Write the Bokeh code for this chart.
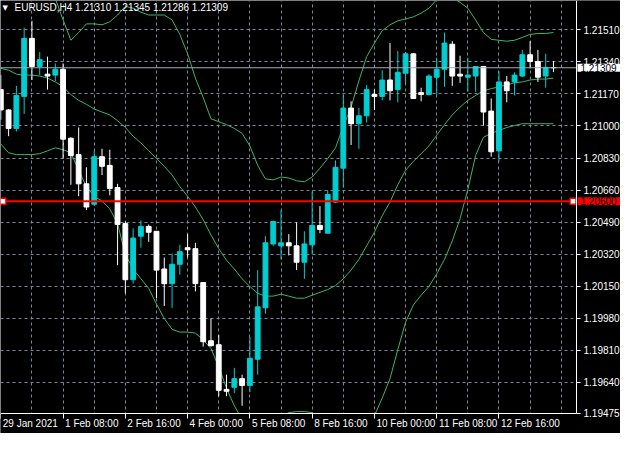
from bokeh.plotting import figure
from bokeh.models import (ColumnDataSource, FixedTicker, PrintfTickFormatter, Label,
                          BoxAnnotation, Range1d)
from bokeh.embed import file_html
from bokeh.resources import INLINE

nan = float("nan")

# ---------------- data (EURUSD H4, 72 bars, 29 Jan 2021 00:00 .. 12 Feb 2021) ----------------
title_text = "EURUSD,H4  1.21310 1.21345 1.21286 1.21309"
last_close = 1.21309
marked_level = 1.20600

opens = [1.21193, 1.21085, 1.20987, 1.21157, 1.21465, 1.21316, 1.21275, 1.21270, 1.21301, 1.20935,
         1.20848, 1.20693, 1.20585, 1.20837, 1.20791, 1.20673, 1.20482, 1.20184, 1.20415, 1.20467,
         1.20441, 1.20241, 1.20163, 1.20266, 1.20354, 1.20349, 1.20169, 1.19860, 1.19839, 1.19602,
         1.19613, 1.19659, 1.19623, 1.19762, 1.20035, 1.20374, 1.20364, 1.20380, 1.20364, 1.20277,
         1.20369, 1.20472, 1.20431, 1.20596, 1.20776, 1.21095, 1.21012, 1.21054, 1.21167, 1.21157,
         1.21244, 1.21193, 1.21280, 1.21383, 1.21177, 1.21167, 1.21259, 1.21301, 1.21434, 1.21275,
         1.21259, 1.21265, 1.21316, 1.21079, 1.20868, 1.21234, 1.21234, 1.21265, 1.21378, 1.21342,
         1.21265, 1.21310]
highs = [1.21270, 1.21090, 1.21213, 1.21522, 1.21558, 1.21393, 1.21368, 1.21332, 1.21332, 1.20940,
         1.20992, 1.20781, 1.20868, 1.20879, 1.20874, 1.20693, 1.20493, 1.20457, 1.20498, 1.20477,
         1.20441, 1.20302, 1.20323, 1.20369, 1.20426, 1.20380, 1.20169, 1.19978, 1.19891, 1.19680,
         1.19716, 1.19680, 1.19880, 1.20235, 1.20415, 1.20498, 1.20554, 1.20426, 1.20488, 1.20441,
         1.20652, 1.20575, 1.20657, 1.20817, 1.21167, 1.21131, 1.21095, 1.21218, 1.21193, 1.21296,
         1.21440, 1.21398, 1.21393, 1.21383, 1.21203, 1.21275, 1.21362, 1.21496, 1.21450, 1.21373,
         1.21362, 1.21316, 1.21316, 1.21146, 1.21290, 1.21265, 1.21285, 1.21404, 1.21450, 1.21404,
         1.21383, 1.21345]
lows = [1.21033, 1.20946, 1.20971, 1.21064, 1.21244, 1.21270, 1.21193, 1.21239, 1.20827, 1.20688,
        1.20627, 1.20554, 1.20575, 1.20740, 1.20632, 1.20261, 1.20112, 1.20163, 1.20354, 1.20385,
        1.20086, 1.20045, 1.20035, 1.20210, 1.20302, 1.20122, 1.19829, 1.19829, 1.19566, 1.19566,
        1.19582, 1.19515, 1.19587, 1.19680, 1.20004, 1.20364, 1.20292, 1.20313, 1.20235, 1.20189,
        1.20318, 1.20431, 1.20431, 1.20590, 1.20673, 1.20899, 1.20879, 1.21018, 1.21085, 1.21136,
        1.21136, 1.21126, 1.21223, 1.21146, 1.21131, 1.21162, 1.21167, 1.21208, 1.21213, 1.21229,
        1.21182, 1.21182, 1.21002, 1.20837, 1.20812, 1.21126, 1.21162, 1.21259, 1.21306, 1.21234,
        1.21203, 1.21286]
closes = [1.21085, 1.20987, 1.21162, 1.21465, 1.21316, 1.21352, 1.21265, 1.21301, 1.20930, 1.20843,
          1.20693, 1.20570, 1.20837, 1.20786, 1.20668, 1.20477, 1.20184, 1.20405, 1.20467, 1.20436,
          1.20235, 1.20163, 1.20266, 1.20333, 1.20343, 1.20163, 1.19855, 1.19834, 1.19597, 1.19592,
          1.19659, 1.19623, 1.19767, 1.20040, 1.20380, 1.20493, 1.20380, 1.20364, 1.20277, 1.20374,
          1.20472, 1.20451, 1.20637, 1.20781, 1.21095, 1.21012, 1.21054, 1.21193, 1.21157, 1.21244,
          1.21187, 1.21285, 1.21383, 1.21146, 1.21167, 1.21265, 1.21301, 1.21440, 1.21265, 1.21265,
          1.21270, 1.21316, 1.21074, 1.20863, 1.21234, 1.21187, 1.21270, 1.21378, 1.21342, 1.21259,
          1.21311, 1.21309]

bb_upper = [nan, nan, nan, nan, nan, nan, 1.21717, 1.21676, 1.21563, 1.21455,
            1.21496, 1.21542, 1.21542, 1.21537, 1.21553, 1.21589, 1.21635, 1.21625, 1.21604, 1.21589,
            1.21589, 1.21589, 1.21563, 1.21486, 1.21383, 1.21254, 1.21151, 1.21038, 1.21023, 1.21007,
            1.20987, 1.20961, 1.20894, 1.20791, 1.20719, 1.20714, 1.20729, 1.20724, 1.20709, 1.20704,
            1.20729, 1.20776, 1.20827, 1.20884, 1.20997, 1.21100, 1.21239, 1.21368, 1.21440, 1.21506,
            1.21537, 1.21558, 1.21568, 1.21579, 1.21599, 1.21625, 1.21671, 1.21707, 1.21681, 1.21656,
            1.21625, 1.21563, 1.21496, 1.21460, 1.21455, 1.21450, 1.21455, 1.21470, 1.21486, 1.21491,
            1.21491, 1.21496]
bb_mid = [1.21306, 1.21296, 1.21275, 1.21270, 1.21270, 1.21265, 1.21254, 1.21234, 1.21208, 1.21167,
          1.21136, 1.21115, 1.21090, 1.21074, 1.21059, 1.21028, 1.20992, 1.20946, 1.20910, 1.20868,
          1.20827, 1.20786, 1.20740, 1.20678, 1.20627, 1.20570, 1.20503, 1.20421, 1.20349, 1.20287,
          1.20241, 1.20189, 1.20148, 1.20112, 1.20097, 1.20097, 1.20107, 1.20097, 1.20086, 1.20086,
          1.20102, 1.20117, 1.20132, 1.20153, 1.20189, 1.20235, 1.20292, 1.20364, 1.20436, 1.20524,
          1.20596, 1.20688, 1.20765, 1.20812, 1.20853, 1.20894, 1.20951, 1.21007, 1.21059, 1.21100,
          1.21136, 1.21162, 1.21187, 1.21198, 1.21208, 1.21218, 1.21229, 1.21234, 1.21244, 1.21249,
          1.21249, 1.21254]
bb_lower = [1.20904, 1.20858, 1.20848, 1.20848, 1.20848, 1.20853, 1.20868, 1.20884, 1.20874, 1.20858,
            1.20765, 1.20678, 1.20627, 1.20601, 1.20560, 1.20482, 1.20318, 1.20241, 1.20189, 1.20138,
            1.20055, 1.19978, 1.19921, 1.19906, 1.19906, 1.19901, 1.19865, 1.19819, 1.19721, 1.19608,
            1.19515, 1.19443, 1.19376, 1.19350, 1.19376, 1.19412, 1.19453, 1.19479, 1.19484, 1.19484,
            1.19479, 1.19453, 1.19402, 1.19350, 1.19325, 1.19325, 1.19350, 1.19402, 1.19463, 1.19556,
            1.19659, 1.19813, 1.19958, 1.20050, 1.20102, 1.20148, 1.20215, 1.20292, 1.20390, 1.20508,
            1.20663, 1.20843, 1.20940, 1.20961, 1.20976, 1.20992, 1.21002, 1.21012, 1.21012, 1.21012,
            1.21012, 1.21012]

time_label_bars = [0, 8, 16, 24, 32, 40, 48, 56, 64]
time_labels = ["29 Jan 2021", "1 Feb 08:00", "2 Feb 16:00", "4 Feb 00:00", "5 Feb 08:00",
               "8 Feb 16:00", "10 Feb 00:00", "11 Feb 08:00", "12 Feb 16:00"]
grid_bars = [0, 4, 8, 12, 16, 20, 24, 28, 32, 36, 40, 44, 48, 52, 56, 60, 64, 68, 72]
price_ticks = [1.21510, 1.21340, 1.21170, 1.21000, 1.20830, 1.20660, 1.20490,
               1.20320, 1.20150, 1.19980, 1.19810, 1.19640, 1.19475]

# ---------------- styling / layout ----------------
UP = "#00CED1"
DOWN = "#FFFFFF"
BAND = "#3CB371"
GRID = "#778899"
FONT = "Liberation Sans"
FS_PX = 10
FS = f"{FS_PX}px"
W, H = 620, 433
AXIS_W, AXIS_H = 44, 20           # price-scale strip width, time-scale strip height

x_start, x_end = -0.04, 73.96     # chart area (bars)
y_start, y_end = 1.19474, 1.21666 # chart area (price)
px_per_bar = (W - AXIS_W) / (x_end - x_start)
x_full = x_start + W / px_per_bar                          # frame spans the price strip too
y_full = y_start - AXIS_H * (y_end - y_start) / (H - AXIS_H)  # ... and the time strip

# rough Liberation Sans advance widths (em) to left-align time labels at their tick
_adv = {" ": 0.278, ":": 0.278, "F": 0.611, "J": 0.5}
def text_width(s):
    return sum(_adv.get(ch, 0.556) for ch in s) * FS_PX

label_pos = [round(b + (2 + text_width(t) / 2) / px_per_bar, 4)
             for b, t in zip(time_label_bars, time_labels)]

bars = list(range(len(opens)))
colors = [UP if c >= o else DOWN for o, c in zip(opens, closes)]
src = ColumnDataSource(dict(
    x=bars, high=highs, low=lows,
    top=[max(o, c) for o, c in zip(opens, closes)],
    bottom=[min(o, c) for o, c in zip(opens, closes)],
    color=colors))
bands = ColumnDataSource(dict(x=bars, up=bb_upper, mid=bb_mid, lo=bb_lower))

p = figure(width=W, height=H,
           x_range=Range1d(x_start, x_full), y_range=Range1d(y_full, y_end),
           y_axis_location="right", output_backend="svg", toolbar_location=None,
           background_fill_color="black", border_fill_color="black",
           outline_line_color=None,
           min_border_left=0, min_border_top=0, min_border_right=0, min_border_bottom=0)

# grid
p.xgrid.ticker = FixedTicker(ticks=grid_bars)
for g in (p.xgrid[0], p.ygrid[0]):
    g.grid_line_color = GRID
    g.grid_line_dash = "3 3"
    g.grid_line_width = 1

# axes (drawn at the chart edges, inside the frame)
xa = p.xaxis[0]
xa.fixed_location = y_start
xa.bounds = (x_start, x_end)
xa.ticker = FixedTicker(ticks=label_pos, minor_ticks=time_label_bars)
xa.major_label_overrides = {pos: t for pos, t in zip(label_pos, time_labels)}
xa.major_tick_line_color = None
xa.minor_tick_line_color = "white"
xa.minor_tick_in = 0
xa.minor_tick_out = 5
xa.major_label_standoff = -1
ya = p.yaxis[0]
ya.fixed_location = x_end
ya.bounds = (y_start, y_end)
ya.ticker = FixedTicker(ticks=price_ticks)
ya.formatter = PrintfTickFormatter(format="%.5f")
ya.major_tick_line_color = "white"
ya.minor_tick_line_color = None
ya.major_label_standoff = 3
for ax in (xa, ya):
    ax.axis_line_color = "white"
    ax.major_tick_in = 0
    ax.major_tick_out = 4
    ax.major_label_text_color = "white"
    ax.major_label_text_font = FONT
    ax.major_label_text_font_size = FS

# bands
p.line("x", "up", source=bands, line_color=BAND, line_width=1)
p.line("x", "mid", source=bands, line_color=BAND, line_width=1)
p.line("x", "lo", source=bands, line_color=BAND, line_width=1)

# candles
p.segment(x0="x", y0="high", x1="x", y1="low", source=src, line_color="color", line_width=1)
p.vbar(x="x", width=0.62, top="top", bottom="bottom", source=src,
       fill_color="color", line_color="color", line_width=1)

# bid line and horizontal level line (chart area only)
p.segment(x0=[x_start], y0=[last_close], x1=[x_end], y1=[last_close],
          line_color="#A3ABB4", line_width=1)
p.segment(x0=[x_start], y0=[marked_level], x1=[x_end], y1=[marked_level],
          line_color="#FF0000", line_width=2)
p.scatter(x=[x_start + 0.31, x_end - 0.45], y=[marked_level, marked_level], marker="square",
          size=6, fill_color="white", line_color="#FF0000", line_width=1.5)

# keep the scale strips clean: drawn after the data, before the axes
p.add_layout(BoxAnnotation(left=x_end, fill_color="black", fill_alpha=1.0,
                           line_color=None, level="glyph"))
p.add_layout(BoxAnnotation(top=y_start, fill_color="black", fill_alpha=1.0,
                           line_color=None, level="glyph"))

# price boxes on the price scale
for val, bg in ((last_close, "white"), (marked_level, "#FF0000")):
    lbl = Label(x=x_end, y=val, x_offset=1, text=f"{val:.5f}",
                text_font=FONT, text_font_size=FS, text_color="black",
                text_baseline="middle", text_align="left",
                background_fill_color=bg)
    try:
        lbl.padding = dict(left=3, right=4, top=0, bottom=0)
    except Exception:
        lbl.padding = 1
    p.add_layout(lbl)

# title
p.add_layout(Label(x=x_start, y=y_end, x_offset=2, y_offset=-3, text="\u25BC",
                   text_font="DejaVu Sans", text_font_size="7px", text_color="white",
                   text_baseline="top"))
p.add_layout(Label(x=x_start, y=y_end, x_offset=14, y_offset=-1, text=title_text,
                   text_font=FONT, text_font_size=FS, text_color="white",
                   text_baseline="top"))

open("out.html", "w").write(file_html(p, INLINE))
